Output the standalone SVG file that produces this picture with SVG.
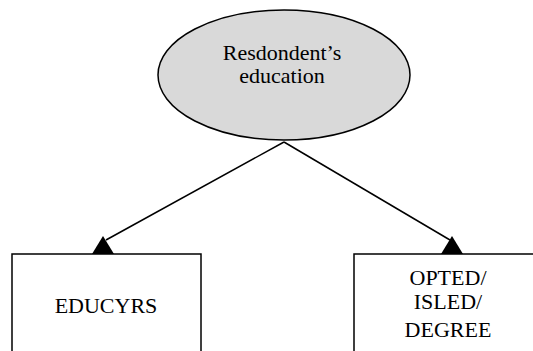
<svg xmlns="http://www.w3.org/2000/svg" width="533" height="351" viewBox="0 0 533 351">
<style>
.t{font-family:'Liberation Serif','DejaVu Serif',serif;font-size:22px;fill:#000;text-anchor:middle}
.s{stroke:#000;stroke-width:1.5;fill:none}
</style>
<rect width="533" height="351" fill="#fff"/>
<g id="connectors">
<line class="s" x1="284" y1="142" x2="106" y2="240"/>
<line class="s" x1="284" y1="142" x2="450" y2="240"/>
<polygon points="103,236 92,254 114,254" fill="#000"/>
<polygon points="452,236 441,254 463,254" fill="#000"/>
</g>
<g id="education">
<ellipse cx="284" cy="75" rx="126" ry="65" fill="#d9d9d9" stroke="#000" stroke-width="1.5"/>
<text class="t" x="282" y="60">Resdondent’s</text>
<text class="t" x="282" y="83">education</text>
</g>
<g id="educyrs">
<rect class="s" x="12" y="254" width="189" height="110" fill="#fff"/>
<text class="t" x="106" y="313">EDUCYRS</text>
</g>
<g id="degree">
<rect class="s" x="354" y="254" width="190" height="110" fill="#fff"/>
<text class="t" x="448" y="285">OPTED/</text>
<text class="t" x="448" y="309">ISLED/</text>
<text class="t" x="448" y="337">DEGREE</text>
</g>
</svg>
